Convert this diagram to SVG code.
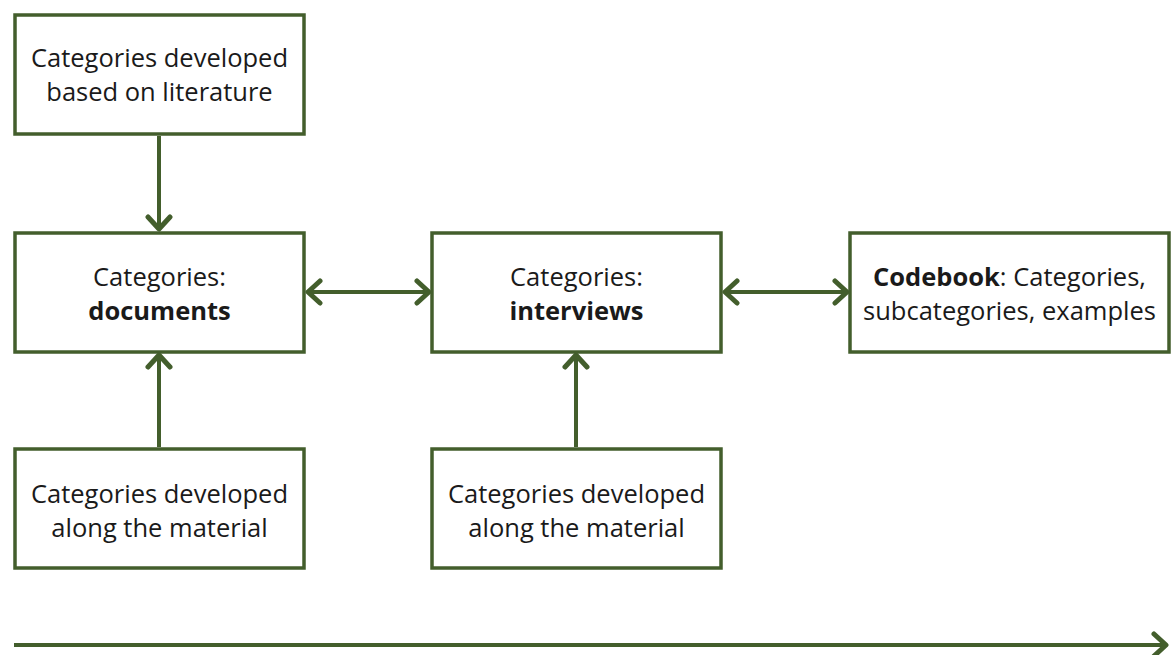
<svg xmlns="http://www.w3.org/2000/svg" width="1172" height="655" viewBox="0 0 1172 655">
<style>
.box{fill:#ffffff;stroke:#435e2c;stroke-width:3.5}
.t{font-family:"Open Sans","Noto Sans","Liberation Sans",sans-serif;font-size:25.5px;fill:#1a1a1a;text-anchor:middle}
.b{font-weight:bold}
.c{stroke:#435e2c;stroke-width:4;fill:none}
</style>
<defs>
<marker id="ah" viewBox="0 0 20 28" refX="17" refY="14" markerWidth="20" markerHeight="28" markerUnits="userSpaceOnUse" orient="auto-start-reverse">
<path d="M4,3 L16,14 L4,25" fill="none" stroke="#435e2c" stroke-width="5" stroke-linecap="round" stroke-linejoin="round"/>
</marker>
</defs>
<rect width="1172" height="655" fill="#ffffff"/>
<g id="connectors">
<line class="c" x1="159" y1="136" x2="159" y2="230" marker-end="url(#ah)"/>
<line class="c" x1="159" y1="447" x2="159" y2="354" marker-end="url(#ah)"/>
<line class="c" x1="576" y1="447" x2="576" y2="354" marker-end="url(#ah)"/>
<line class="c" x1="307" y1="292" x2="430" y2="292" marker-start="url(#ah)" marker-end="url(#ah)"/>
<line class="c" x1="724" y1="292" x2="848" y2="292" marker-start="url(#ah)" marker-end="url(#ah)"/>
<line class="c" x1="14" y1="645" x2="1167" y2="645" marker-end="url(#ah)"/>
</g>
<g id="lit">
<rect class="box" x="15" y="15" width="289" height="119"/>
<text class="t" x="159.5" y="67">Categories developed</text>
<text class="t" x="159.5" y="101">based on literature</text>
</g>
<g id="docs">
<rect class="box" x="15" y="233" width="289" height="119"/>
<text class="t" x="159.5" y="286">Categories:</text>
<text class="t b" x="159.5" y="320">documents</text>
</g>
<g id="interviews">
<rect class="box" x="432" y="233" width="289" height="119"/>
<text class="t" x="576.5" y="286">Categories:</text>
<text class="t b" x="576.5" y="320">interviews</text>
</g>
<g id="codebook">
<rect class="box" x="850" y="233" width="319" height="119"/>
<text class="t" x="1009.5" y="286"><tspan class="b">Codebook</tspan>: Categories,</text>
<text class="t" x="1009.5" y="320">subcategories, examples</text>
</g>
<g id="mat1">
<rect class="box" x="15" y="449" width="289" height="119"/>
<text class="t" x="159.5" y="503">Categories developed</text>
<text class="t" x="159.5" y="537">along the material</text>
</g>
<g id="mat2">
<rect class="box" x="432" y="449" width="289" height="119"/>
<text class="t" x="576.5" y="503">Categories developed</text>
<text class="t" x="576.5" y="537">along the material</text>
</g>
</svg>
